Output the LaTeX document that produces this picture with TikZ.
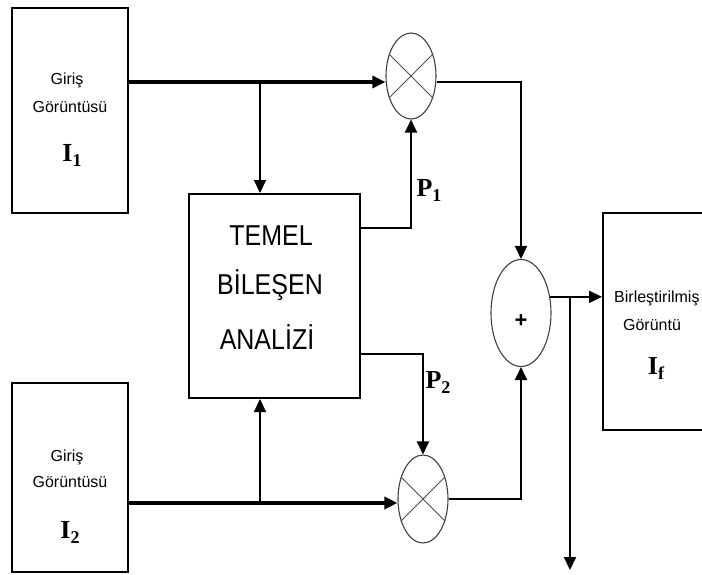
\documentclass[tikz,border=0pt]{standalone}
\usepackage{fontspec}
\setmainfont{Liberation Serif}
\setsansfont{Liberation Sans}
\usetikzlibrary{shapes.geometric,arrows.meta,calc}
\newcommand{\symlbl}[2]{{\fontsize{26}{26}\selectfont #1}\raisebox{-5pt}{\fontsize{18}{18}\selectfont #2}}
\tikzset{
  box/.style={draw, line width=2pt, rectangle, inner sep=0pt},
  opnode/.style={draw=black!75, line width=1.1pt, ellipse, inner sep=0pt},
  small/.style={font=\sffamily\fontsize{16}{16}\selectfont, inner sep=0pt},
  big/.style={font=\sffamily\fontsize{25}{25}\selectfont, inner sep=0pt},
  sym/.style={inner sep=0pt, font=\bfseries},
  conn/.style={line width=2pt},
  thickconn/.style={line width=3.6pt},
  tip/.style={-{Triangle[length=13pt,width=12pt]}},
  xline/.style={draw=black!70, line width=0.9pt}
}
\begin{document}
\begin{tikzpicture}[x=1pt,y=-1pt]
\useasboundingbox (0,0) rectangle (702,574);
\clip (0,0) rectangle (702,574);
% boxes
\node[box, minimum width=116pt, minimum height=205pt] (in1) at (70,110.5) {};
\node[box, minimum width=116pt, minimum height=189pt] (in2) at (70,477.5) {};
\node[box, minimum width=171pt, minimum height=204pt] (pca) at (274.5,296) {};
\node[box, minimum width=137pt, minimum height=217pt] (out) at (671.5,321.5) {};
% texts
\node[small] (t1a) at (67,80) {Giriş};
\node[small] (t1b) at (70,107) {Görüntüsü};
\node[sym] (t1c) at (72,155) {\symlbl{I}{1}};
\node[small] (t2a) at (67,457) {Giriş};
\node[small] (t2b) at (70,482) {Görüntüsü};
\node[sym] (t2c) at (70,532) {\symlbl{I}{2}};
\node[big] (p1) at (271,236) {\scalebox{1}[1.15]{TEMEL}};
\node[big] (p2) at (270,285) {\scalebox{1}[1.15]{BİLEŞEN}};
\node[big] (p3) at (267,337) {\scalebox{1}[1.15]{ANALİZİ}};
\node[small, anchor=west] (to1) at (614,298) {Birleştirilmiş};
\node[small] (to2) at (652,325) {Görüntü};
\node[sym] (to3) at (656,368) {\symlbl{I}{f}};
\node[sym] (lp1) at (429,190) {\symlbl{P}{1}};
\node[sym] (lp2) at (438,382) {\symlbl{P}{2}};
% operators
\node[opnode, minimum width=50pt, minimum height=86pt] (m1) at (411,76) {};
\node[opnode, minimum width=50pt, minimum height=88pt] (m2) at (423,499) {};
\node[opnode, minimum width=60pt, minimum height=107pt] (s) at (521,313) {};
\node[inner sep=0pt, font=\sffamily\bfseries\fontsize{22}{22}\selectfont] (plus) at (521,321) {+};
\draw[xline] (m1.135) -- (m1.-45) (m1.45) -- (m1.-135);
\draw[xline] (m2.135) -- (m2.-45) (m2.45) -- (m2.-135);
% coordinates
\coordinate (j1) at (260,82);
\coordinate (j2) at (260,503);
\coordinate (j3) at (570,297);
\coordinate (down) at (570,570);
% connectors
\draw[thickconn] (in1.east |- j1) -- (j1);
\draw[thickconn, tip] (j1) -- (m1.west |- j1);
\draw[conn, tip] (j1) -- (j1 |- pca.north);
\draw[thickconn] (in2.east |- j2) -- (j2);
\draw[thickconn, tip] (j2) -- (m2.west |- j2);
\draw[conn, tip] (j2) -- (j2 |- pca.south);
\draw[conn, tip] (pca.east |- 0,228) -| (m1.south);
\draw[conn, tip] (pca.east |- 0,354) -| (m2.north);
\draw[conn, tip] (m1.east |- j1) -| (s.north);
\draw[conn, tip] (m2.east) -| (s.south);
\draw[conn, tip] (s.29) -- (s.29 -| out.west);
\draw[conn, tip] (j3) -- (down);
\end{tikzpicture}
\end{document}
